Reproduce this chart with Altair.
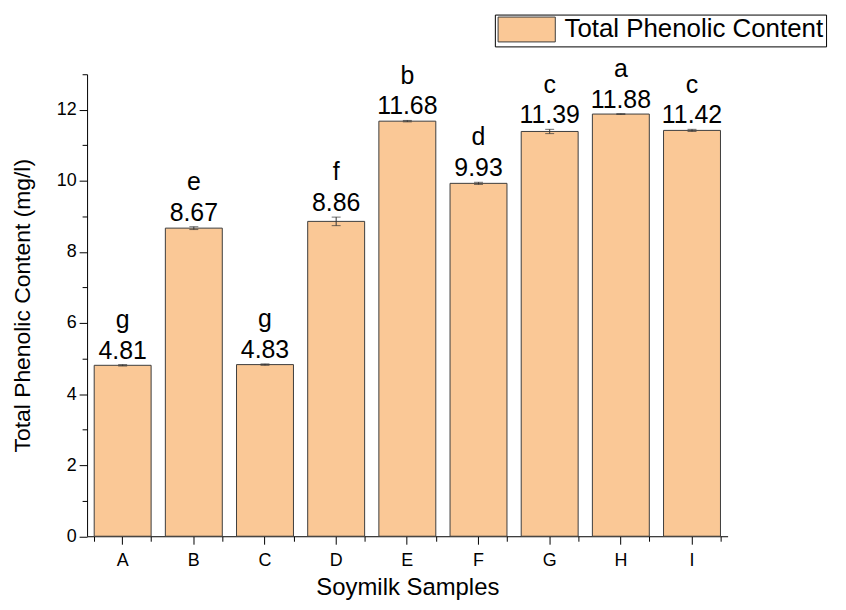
import altair as alt
import pandas as pd

samples = ["A", "B", "C", "D", "E", "F", "G", "H", "I"]
tpc = [4.81, 8.67, 4.83, 8.86, 11.68, 9.93, 11.39, 11.88, 11.42]
err = [0.02, 0.04, 0.02, 0.12, 0.02, 0.03, 0.06, 0.01, 0.03]
letters = ["g", "e", "g", "f", "b", "d", "c", "a", "c"]
series_name = "Total Phenolic Content"
major_y = [0, 2, 4, 6, 8, 10, 12]
minor_y = [1, 3, 5, 7, 9, 11, 13]

df = pd.DataFrame({
    "sample": samples,
    "tpc": tpc,
    "err": err,
    "letter": letters,
    "series": [series_name] * len(samples),
})

FONT = "Liberation Sans"
FILL = "#FAC896"
EDGE = "#3c3c3c"

xscale = alt.Scale(paddingInner=0.2, paddingOuter=0.1)
yscale = alt.Scale(domain=[0, 13], nice=False, zero=True)

base = alt.Chart(df).transform_calculate(
    lo="datum.tpc - datum.err", hi="datum.tpc + datum.err"
)

bars = base.mark_bar(stroke=EDGE, strokeWidth=1).encode(
    x=alt.X("sample:N", sort=samples, scale=xscale,
            axis=alt.Axis(title="Soymilk Samples", orient="bottom", labelAngle=0,
                          tickSize=8, tickColor="black", domainColor="black",
                          labelFont=FONT, labelFontSize=18, labelColor="black",
                          labelPadding=7, titleFont=FONT, titleFontSize=24,
                          titleFontWeight="normal", titleColor="black",
                          titlePadding=7, grid=False)),
    y=alt.Y("tpc:Q", scale=yscale,
            axis=alt.Axis(title="Total Phenolic Content (mg/l)", orient="left",
                          values=major_y, tickSize=8, tickColor="black",
                          domainColor="black", labelFont=FONT, labelFontSize=18,
                          labelColor="black", labelPadding=3, titleFont=FONT,
                          titleFontSize=23, titleFontWeight="normal",
                          titleColor="black", titlePadding=22, grid=False)),
    fill=alt.Fill("series:N", scale=alt.Scale(range=[FILL]),
                  legend=alt.Legend(title=None, orient="none", legendX=410, legendY=-60,
                                    strokeColor="black", padding=2, cornerRadius=0,
                                    symbolType="M-2.3,-1H2.3V1H-2.3Z", symbolSize=625,
                                    symbolOffset=17, symbolStrokeColor=EDGE,
                                    symbolStrokeWidth=1, labelFont=FONT, labelFontSize=26,
                                    labelColor="black", labelOffset=25, labelLimit=400)),
)

minor_axes = base.mark_bar(opacity=0).encode(
    x=alt.X("sample:N", sort=samples, scale=xscale,
            axis=alt.Axis(title=None, orient="bottom", labels=False, domain=False,
                          tickBand="extent", tickSize=5, tickColor="black", grid=False)),
    y=alt.Y("tpc:Q", scale=yscale,
            axis=alt.Axis(title=None, orient="left", labels=False, domain=False,
                          values=minor_y, tickSize=5, tickColor="black", grid=False)),
)

errbars = base.mark_errorbar(ticks=True, color="#333333", thickness=1, size=9).encode(
    x=alt.X("sample:N", sort=samples, scale=xscale, axis=None),
    y=alt.Y("lo:Q", scale=yscale, axis=None),
    y2="hi:Q",
)

values_text = base.mark_text(baseline="alphabetic", dy=-6, font=FONT, fontSize=25,
                             color="black").encode(
    x=alt.X("sample:N", sort=samples, scale=xscale, axis=None),
    y=alt.Y("hi:Q", scale=yscale, axis=None),
    text=alt.Text("tpc:Q", format=".2f"),
)

letters_text = base.mark_text(baseline="alphabetic", dy=-37, font=FONT, fontSize=25,
                              color="black").encode(
    x=alt.X("sample:N", sort=samples, scale=xscale, axis=None),
    y=alt.Y("hi:Q", scale=yscale, axis=None),
    text="letter:N",
)

chart = alt.layer(bars, minor_axes, errbars, values_text, letters_text).resolve_axis(
    x="independent", y="independent"
).properties(
    width=644,
    height=464.5,
    autosize="none",
    padding={"left": 79.5, "top": 65, "right": 111, "bottom": 64},
).configure_view(stroke=None)

chart.save("out.html", embed_options={"renderer": "svg", "actions": False})
